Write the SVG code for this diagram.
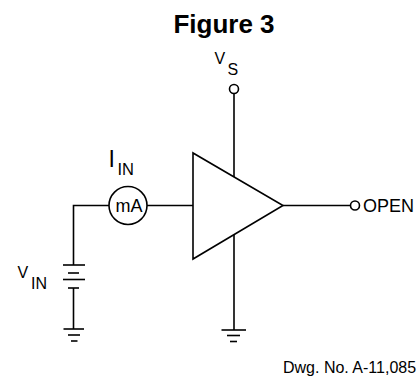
<svg xmlns="http://www.w3.org/2000/svg" width="420" height="377" viewBox="0 0 420 377">
<style>
.w{stroke:#000;stroke-width:1.6;fill:none;stroke-linecap:butt}
.t{font-family:"Liberation Sans",Arial,sans-serif;fill:#000}
</style>
<rect width="420" height="377" fill="#fff"/>
<text class="t" x="224" y="33" font-size="26" font-weight="bold" text-anchor="middle">Figure 3</text>
<g id="connectors" class="w">
<line x1="234" y1="93.5" x2="234" y2="177"/>
<line x1="234" y1="235" x2="234" y2="330"/>
<line x1="283" y1="205.5" x2="350.5" y2="205.5"/>
<line x1="147" y1="205.5" x2="193" y2="205.5"/>
<polyline points="109,205.5 73.5,205.5 73.5,265"/>
<line x1="73.5" y1="288" x2="73.5" y2="329"/>
</g>
<g id="amplifier">
<polygon class="w" points="193,153 193,259 283,205.5"/>
</g>
<g id="vs">
<circle class="w" cx="234" cy="89" r="4.5"/>
<text class="t" x="214.5" y="63.5" font-size="16">V</text>
<text class="t" x="227.5" y="74.5" font-size="16">S</text>
</g>
<g id="output">
<circle class="w" cx="355" cy="205.5" r="4.5"/>
<text class="t" x="363" y="212" font-size="18">OPEN</text>
</g>
<g id="ammeter">
<circle class="w" cx="128" cy="205.5" r="19"/>
<text class="t" x="129" y="212" font-size="18" text-anchor="middle">mA</text>
<text class="t" x="108.5" y="167" font-size="23">I</text>
<text class="t" x="117.5" y="175" font-size="16.5">IN</text>
</g>
<g id="battery" class="w">
<line x1="63" y1="265" x2="85" y2="265"/>
<line x1="68" y1="273" x2="79" y2="273"/>
<line x1="63" y1="279.5" x2="85" y2="279.5"/>
<line x1="68" y1="288" x2="79" y2="288"/>
</g>
<g id="vin">
<text class="t" x="17.5" y="277.5" font-size="16">V</text>
<text class="t" x="31" y="288.5" font-size="16">IN</text>
</g>
<g id="ground1" class="w">
<line x1="63.5" y1="329" x2="84" y2="329"/>
<line x1="68" y1="335" x2="80" y2="335"/>
<line x1="71" y1="341" x2="77.5" y2="341"/>
</g>
<g id="ground2" class="w">
<line x1="221.5" y1="330" x2="246" y2="330"/>
<line x1="227" y1="335.5" x2="240" y2="335.5"/>
<line x1="230" y1="341.5" x2="237" y2="341.5"/>
</g>
<text class="t" x="283" y="373" font-size="16">Dwg. No. A-11,085</text>
</svg>
